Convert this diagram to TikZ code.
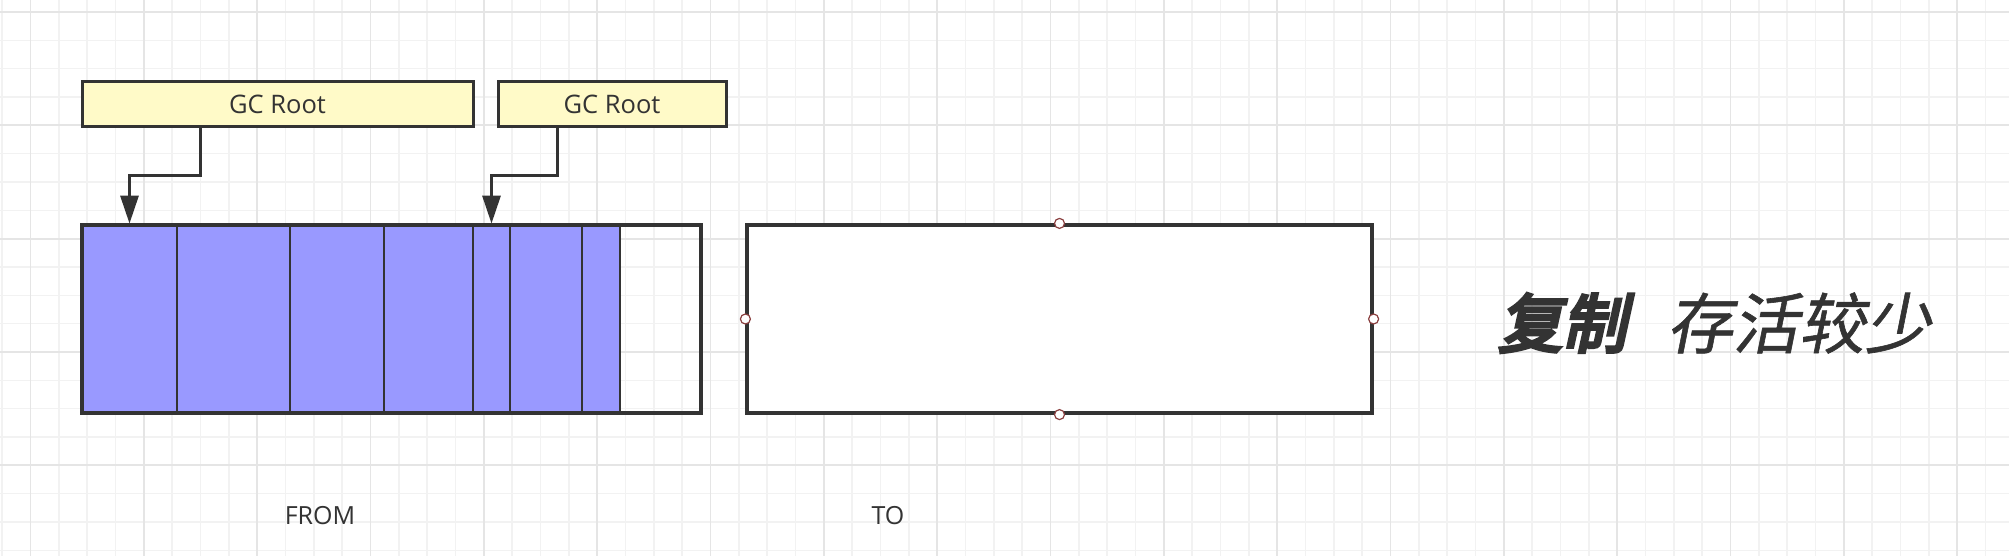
\documentclass[tikz,border=0pt]{standalone}
\usepackage{fontspec}
\setmainfont{Open Sans}
\newfontfamily\cjkbold[FakeSlant=0.22, FakeBold=5.5]{Noto Sans CJK SC}
\newfontfamily\cjkmid[FakeSlant=0.2, FakeBold=0.9]{Noto Sans CJK SC}
\usetikzlibrary{arrows.meta, positioning}
\definecolor{inkgray}{HTML}{333333}
\definecolor{rootyellow}{HTML}{FFFAC8}
\definecolor{liveblue}{HTML}{9999FF}
\definecolor{handlered}{HTML}{8B4040}
\tikzset{
    gridminor/.style={black!5, line width=1.4pt},
    gridmajor/.style={black!10, line width=1.8pt},
    rootbox/.style={draw=inkgray, fill=rootyellow, line width=3pt, minimum height=45pt, inner sep=0pt, font=\fontsize{25.5}{30}\selectfont, text=inkgray},
    cellbox/.style={draw=inkgray, fill=liveblue, line width=2.8pt, minimum height=188pt, inner sep=0pt},
    spacebox/.style={draw=inkgray, line width=3.2pt, minimum height=188pt, inner sep=0pt},
    gcarrow/.style={draw=inkgray, line width=3pt, -{Triangle[length=28pt, width=18pt]}},
    handle/.style={circle, draw=handlered, fill=white, line width=1.2pt, minimum size=10pt, inner sep=0pt},
    spacelabel/.style={font=\fontsize{25}{30}\selectfont, text=inkgray},
}

\begin{document}
\begin{tikzpicture}[x=1pt, y=-1pt]
    \useasboundingbox[fill=white] (0,0) rectangle (2009,556);

    % background grid
    \foreach \k in {0,...,70}
        \draw[gridminor] ({2.17+28.333*\k},0) -- ({2.17+28.333*\k},556);
    \foreach \k in {0,...,19}
        \draw[gridminor] (0,{12+28.333*\k}) -- (2009,{12+28.333*\k});
    \foreach \k in {0,...,17}
        \draw[gridmajor] ({30.5+113.33*\k},0) -- ({30.5+113.33*\k},556);
    \foreach \k in {0,...,4}
        \draw[gridmajor] (0,{12+113.33*\k}) -- (2009,{12+113.33*\k});

    % GC roots
    \node[rootbox, minimum width=391pt] (root1) at (277.5,104.5) {GC Root};
    \node[rootbox, minimum width=228pt] (root2) at (612,104.5) {GC Root};

    % FROM space : live objects packed to the left
    \foreach \a/\b [count=\i] in {82/177, 177/290, 290/384, 384/473, 473/510, 510/582, 582/620}
        \node[cellbox, minimum width={(\b-\a)*1pt}] (cell\i) at ({(\a+\b)/2},319) {};
    \node[spacebox, minimum width=619pt] (fromspace) at (391.5,319) {};

    % TO space : empty, with its four handles
    \node[spacebox, fill=white, minimum width=625pt] (tospace) at (1059.5,319) {};
    \foreach \side in {north, south, east, west}
        \node[handle] at (tospace.\side) {};

    % references from the roots
    \draw[gcarrow] ([xshift=120pt]root1.south west) -- ++(0,47) -| (cell1.north);
    \draw[gcarrow] ([xshift=61pt]root2.south west) -- ++(0,47) -| (cell5.north);

    % labels
    \node[spacelabel] (fromlbl) at (320,516) {FROM};
    \node[spacelabel] (tolbl) at (888,516) {TO};
    \node[anchor=west, text=inkgray, font=\cjkbold\fontsize{64}{72}\selectfont, inner sep=0pt] (copytag) at (1498,323) {复制};
    \node[right=40pt of copytag, anchor=west, text=inkgray, font=\cjkmid\fontsize{66}{74}\selectfont, inner sep=0pt] (survtag) {存活较少};
\end{tikzpicture}
\end{document}
